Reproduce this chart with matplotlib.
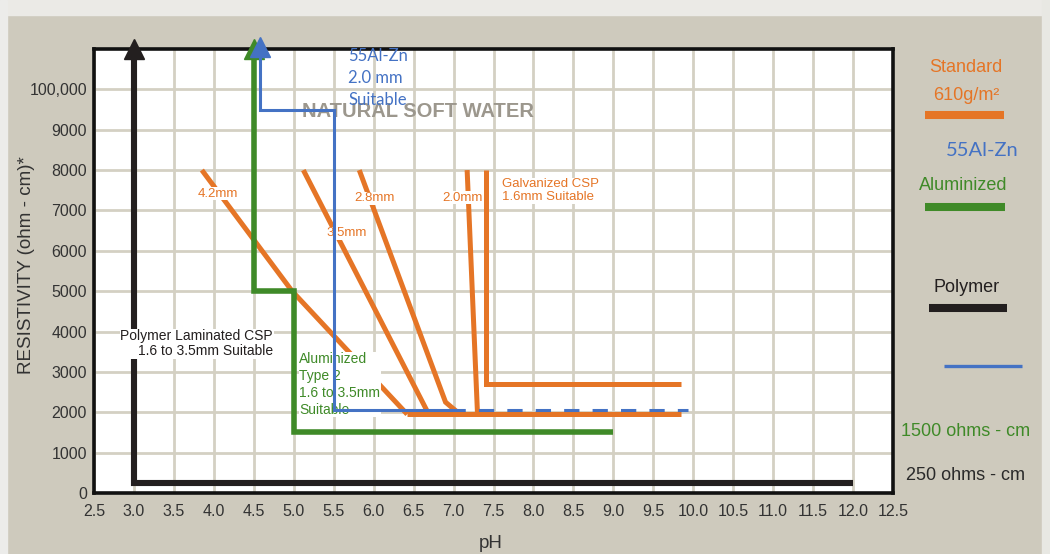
import matplotlib
matplotlib.use("Agg")
import matplotlib.pyplot as plt
from matplotlib.lines import Line2D
from matplotlib.patches import Rectangle

# ---- data (pH, resistivity) ----
ph_ticks = [2.5 + 0.5 * i for i in range(21)]
res_ticks = [0, 1000, 2000, 3000, 4000, 5000, 6000, 7000, 8000, 9000, 10000]
res_labels = ["0", "1000", "2000", "3000", "4000", "5000", "6000",
              "7000", "8000", "9000", "100,000"]

polymer_x = [3.0, 3.0, 12.0]
polymer_y = [11000, 250, 250]

alum_x = [4.5, 4.5, 5.0, 5.0, 9.0]
alum_y = [11000, 5000, 5000, 1500, 1500]

alzn_x = [4.58, 4.58, 5.5, 5.5, 6.95]
alzn_y = [11000, 9500, 9500, 2050, 2050]
alzn_dash_x = [6.95, 9.93]
alzn_dash_y = [2050, 2050]

g42_x = [3.85, 4.98, 6.42]
g42_y = [8000, 5000, 1950]
g35_x = [5.12, 6.69]
g35_y = [8000, 1950]
g28_x = [5.82, 6.9, 7.08]
g28_y = [8000, 2250, 1950]
g20_x = [7.17, 7.3]
g20_y = [8000, 1950]
g16_x = [7.4, 7.4, 9.85]
g16_y = [8000, 2700, 2700]
gbase_x = [6.42, 9.85]
gbase_y = [1950, 1950]

ORANGE = "#e57526"
GREEN = "#3f8a28"
BLACK = "#231f1f"
BLUE = "#4472c4"
BG = "#cecabd"
GRID = "#d4d0c3"
SANS = "Liberation Sans"

W, H = 1050, 554
fig = plt.figure(figsize=(W / 100, H / 100), dpi=100, facecolor=BG)


def fx(px):
    return px / W


def fy(py):
    return 1 - py / H


# lighter frame strips of the screenshot
fig.add_artist(Rectangle((0, fy(15)), 1, 15 / H, transform=fig.transFigure,
                         color="#ebeae6", zorder=0))
fig.add_artist(Rectangle((fx(1042), 0), 8 / W, 1, transform=fig.transFigure,
                         color="#e8e8e3", zorder=0))
fig.add_artist(Rectangle((0, 0), 7 / W, 1, transform=fig.transFigure,
                         color="#ececea", zorder=0))

ax = fig.add_axes([fx(94), fy(493), (893 - 94) / W, (493 - 49) / H])
ax.set_facecolor("white")
ax.set_xlim(2.5, 12.5)
ax.set_ylim(0, 11000)
ax.set_xticks(ph_ticks)
ax.set_xticklabels([f"{v:.1f}" for v in ph_ticks])
ax.set_yticks(res_ticks)
ax.set_yticklabels(res_labels)
ax.grid(True, color=GRID, lw=2.0, zorder=0)
ax.set_axisbelow(True)
ax.tick_params(length=0, labelsize=11.5, labelcolor="#333333", pad=5)
for lab in ax.get_xticklabels() + ax.get_yticklabels():
    lab.set_family(SANS)
ax.tick_params(axis="x", pad=8)
for s in ax.spines.values():
    s.set_color("#111111")
    s.set_linewidth(2.6)

ax.set_ylabel("RESISTIVITY (ohm - cm)*", fontsize=13.5, color="#333333",
              family=SANS)
ax.yaxis.set_label_coords(-0.074, 0.514)
ax.set_xlabel("pH", fontsize=13.5, color="#333333", family=SANS)
ax.xaxis.set_label_coords(0.496, -0.095)

# orange galvanized lines
for xs, ys in [(g42_x, g42_y), (g35_x, g35_y), (g28_x, g28_y),
               (g20_x, g20_y), (g16_x, g16_y), (gbase_x, gbase_y)]:
    ax.plot(xs, ys, color=ORANGE, lw=3.6, solid_joinstyle="miter",
            solid_capstyle="butt", zorder=3)

# polymer and aluminized
ax.plot(polymer_x, polymer_y, color=BLACK, lw=4.4, solid_joinstyle="miter",
        solid_capstyle="butt", zorder=4, clip_on=False)
ax.plot([polymer_x[0]], [polymer_y[0]], marker="^", ms=15, color=BLACK,
        clip_on=False, zorder=4)
ax.plot(alum_x, alum_y, color=GREEN, lw=4.0, solid_joinstyle="miter",
        solid_capstyle="butt", zorder=4, clip_on=False)
ax.plot([alum_x[0]], [alum_y[0]], marker="^", ms=15, color=GREEN,
        clip_on=False, zorder=4)

# inner labels
lab_kw = dict(family=SANS, va="center",
              bbox=dict(facecolor="white", edgecolor="none", pad=0.5))
for txt, x, y in [("4.2mm", 4.05, 7420), ("3.5mm", 5.66, 6430),
                  ("2.8mm", 6.01, 7300), ("2.0mm", 7.11, 7320)]:
    ax.text(x, y, txt, color=ORANGE, fontsize=9.5, ha="center", zorder=5,
            **lab_kw)
ax.text(7.61, 7490, "Galvanized CSP\n1.6mm Suitable", color=ORANGE,
        fontsize=9.5, ha="left", linespacing=1.05, zorder=5, **lab_kw)
ax.text(4.74, 3695, "Polymer Laminated CSP\n1.6 to 3.5mm Suitable",
        color=BLACK, fontsize=10, ha="right", multialignment="right",
        linespacing=1.1, zorder=5, **lab_kw)
ax.text(5.07, 2690, "Aluminized\nType 2\n1.6 to 3.5mm\nSuitable",
        color=GREEN, fontsize=10, ha="left", linespacing=1.25, zorder=5,
        **lab_kw)
ax.text(6.55, 9460, "NATURAL SOFT WATER", color="#9c978d", fontsize=14.5,
        fontweight="bold", ha="center", va="center", family=SANS, zorder=2)

# 55Al-Zn
ax.plot(alzn_x, alzn_y, color=BLUE, lw=2.2, solid_joinstyle="miter",
        zorder=6, clip_on=False)
ax.plot([alzn_x[0]], [alzn_y[0] + 40], marker="^", ms=15, color=BLUE,
        clip_on=False, zorder=6)
ax.plot(alzn_dash_x, alzn_dash_y, color=BLUE, lw=2.2, dashes=(5, 4.3),
        zorder=6)
ax.text(5.68, 10290, "55Al-Zn\n2.0 mm\nSuitable", color=BLUE, fontsize=12,
        family="Lato", ha="left", va="center", linespacing=1.45, zorder=7)

# right-hand key
key_kw = dict(transform=fig.transFigure, ha="center", va="center",
              family=SANS, fontsize=13)
fig.text(fx(966), fy(68), "Standard", color=ORANGE, **key_kw)
fig.text(fx(966), fy(95), "610g/m²", color=ORANGE, **key_kw)
fig.add_artist(Line2D([fx(925), fx(1004)], [fy(115), fy(115)],
                      transform=fig.transFigure, color=ORANGE, lw=5.8,
                      solid_capstyle="butt"))
fig.text(fx(982), fy(150), "55Al-Zn", color=BLUE, transform=fig.transFigure,
         ha="center", va="center", family="Lato", fontsize=14.5)
fig.text(fx(963), fy(186), "Aluminized", color=GREEN, **key_kw)
fig.add_artist(Line2D([fx(925), fx(1005)], [fy(207), fy(207)],
                      transform=fig.transFigure, color=GREEN, lw=5.8,
                      solid_capstyle="butt"))
fig.text(fx(967), fy(287), "Polymer", color=BLACK, **key_kw)
fig.add_artist(Line2D([fx(929), fx(1007)], [fy(308), fy(308)],
                      transform=fig.transFigure, color=BLACK, lw=5.8,
                      solid_capstyle="butt"))
fig.add_artist(Line2D([fx(944), fx(1022)], [fy(366), fy(366)],
                      transform=fig.transFigure, color=BLUE, lw=2.4,
                      solid_capstyle="butt"))
fig.text(fx(966), fy(431), "1500 ohms - cm", color=GREEN, **key_kw)
fig.text(fx(966), fy(476), "250 ohms - cm", color="#2a2a2a", **key_kw)

fig.savefig("out.png", dpi=100, facecolor=BG)
